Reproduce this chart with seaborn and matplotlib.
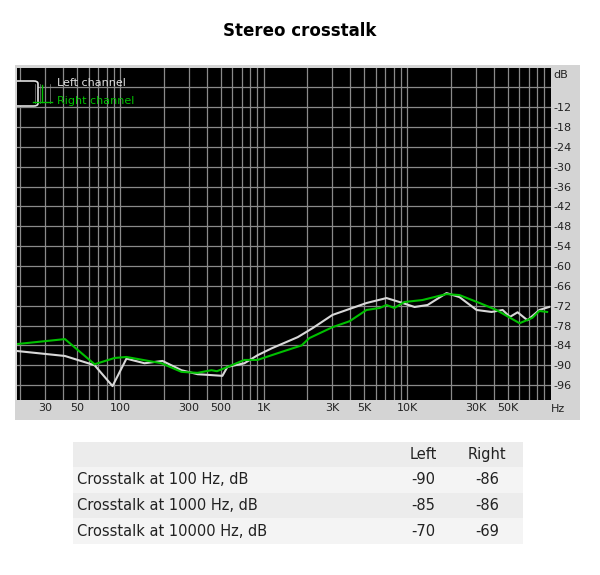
import matplotlib
matplotlib.use("Agg")
import matplotlib.pyplot as plt
import seaborn as sns
import pandas as pd
import numpy as np
from matplotlib.patches import Rectangle, FancyBboxPatch

left_freq = [19, 41, 66, 88, 110, 147, 196, 226, 266, 344, 513, 556, 730, 900, 1130, 1720, 2180,
             3000, 5180, 7140, 8800, 11200, 13800, 18700, 23000, 30300, 38500, 46000, 51700, 58500,
             68500, 83000, 97000]
left_db = [-85.7, -87.2, -90.0, -96.3, -88.0, -89.4, -88.7, -90.0, -91.5, -92.7, -93.2, -90.5, -89.4,
           -87.0, -84.9, -81.5, -78.8, -74.8, -71.2, -69.7, -70.9, -72.4, -71.8, -68.2, -69.4, -73.3,
           -73.9, -73.3, -75.4, -74.0, -76.4, -73.3, -72.4]
right_freq = [19, 41, 66, 91, 110, 193, 266, 344, 430, 470, 530, 730, 900, 1320, 1830, 2070, 3000,
              3950, 5180, 6400, 7140, 8100, 9500, 12700, 18700, 23000, 31800, 41600, 60400, 74000,
              83000, 94000]
right_db = [-83.6, -82.1, -89.7, -87.8, -87.5, -89.4, -92.0, -92.3, -91.5, -91.8, -90.9, -88.4, -88.4,
            -86.0, -84.0, -81.8, -78.5, -76.7, -73.3, -72.7, -71.8, -72.7, -70.9, -70.3, -68.5, -68.8,
            -71.2, -73.3, -77.3, -75.7, -73.6, -73.9]
series_names = ["Left channel", "Right channel"]
xtick_vals = [30, 50, 100, 300, 500, 1000, 3000, 5000, 10000, 30000, 50000]
xtick_labels = ["30", "50", "100", "300", "500", "1K", "3K", "5K", "10K", "30K", "50K"]
ytick_vals = list(range(-12, -97, -6))

table_cols = ["", "Left", "Right"]
table_rows = ["Crosstalk at 100 Hz, dB", "Crosstalk at 1000 Hz, dB", "Crosstalk at 10000 Hz, dB"]
table_left = [-90, -85, -70]
table_right = [-86, -86, -69]

df = pd.concat([
    pd.DataFrame({"f": left_freq, "dB": left_db, "ch": series_names[0]}),
    pd.DataFrame({"f": right_freq, "dB": right_db, "ch": series_names[1]}),
])

W, H = 600, 575
fig = plt.figure(figsize=(6, 5.75), dpi=100)
fig.patch.set_facecolor("white")

def fx(px): return px / W
def fy(py): return 1 - py / H

# gray panel
fig.patches.append(Rectangle((fx(15), fy(420)), fx(565), 355 / H, transform=fig.transFigure,
                             facecolor="#d4d4d4", edgecolor="none", zorder=-5))
fig.text(0.5, fy(31), "Stereo crosstalk", ha="center", va="center", fontsize=12, fontweight="bold",
         family="DejaVu Sans")

ax = fig.add_axes([fx(17), fy(400), fx(534), 332 / H])
ax.set_zorder(2)
ax.set_facecolor("black")
ax.set_xscale("log")
ax.set_xlim(19, 100000)
ax.set_ylim(-100.5, -0.2)
for dec in [10, 100, 1000, 10000]:
    for m in range(1, 10):
        v = dec * m
        if 19 < v < 100000:
            ax.axvline(v, color="#8a8a8a", lw=0.9, zorder=1)
for v in range(-6, -101, -6):
    ax.axhline(v, color="#8a8a8a", lw=0.9, zorder=1)

sns.lineplot(data=df, x="f", y="dB", hue="ch", palette=["#d8d8d8", "#00c000"], ax=ax,
             legend=False, lw=1.5, zorder=3, sort=False)
ax.set_xlabel("")
ax.set_ylabel("")
ax.set_xticks(xtick_vals)
ax.set_xticklabels(xtick_labels)
ax.xaxis.set_minor_locator(matplotlib.ticker.NullLocator())
ax.yaxis.tick_right()
ax.set_yticks(ytick_vals)
ax.set_yticklabels([str(v) for v in ytick_vals])
ax.tick_params(length=0, labelsize=8, colors="#222222", pad=2)
for s in ax.spines.values():
    s.set_visible(False)

# legend inside axes (axes coords via pixel conversion)
def ax_pt(px, py):
    return ((px - 17) / 534, (400 - py) / 332)

ax.text(*ax_pt(57, 83), series_names[0], color="#e0e0e0", fontsize=8, va="center", transform=ax.transAxes, zorder=6)
ax.text(*ax_pt(57, 101), series_names[1], color="#00c000", fontsize=8, va="center", transform=ax.transAxes, zorder=6)
x0, y0 = ax_pt(13, 106)
icon = FancyBboxPatch((x0, y0), 25 / 534, 25 / 332, boxstyle="round,pad=0,rounding_size=0.008",
                      transform=ax.transAxes, facecolor="black", edgecolor="#e0e0e0", lw=1.2, zorder=5)
ax.add_patch(icon)
for gx in [18, 23, 28, 33]:
    ax.plot([(gx) / 534] * 2, [ax_pt(0, 103)[1], ax_pt(0, 84)[1]], color="#888888", lw=0.5,
            transform=ax.transAxes, zorder=6)
ax.plot([16 / 534, 35 / 534], [ax_pt(0, 102)[1]] * 2, color="#00c000", lw=1, transform=ax.transAxes, zorder=7)
ax.plot([25 / 534] * 2, [ax_pt(0, 102)[1], ax_pt(0, 85)[1]], color="#00c000", lw=1, transform=ax.transAxes, zorder=7)

fig.text(fx(553), fy(75), "dB", fontsize=8, color="#222222", va="center", zorder=3)
fig.text(fx(551), fy(409), "Hz", fontsize=8, color="#222222", va="center", zorder=3)

# table
row_tops = [442, 467, 493, 518, 544]
bgs = ["#ececec", "#f4f4f4", "#ececec", "#f4f4f4"]
for i in range(4):
    fig.patches.append(Rectangle((fx(73), fy(row_tops[i + 1])), fx(450), (row_tops[i + 1] - row_tops[i]) / H,
                                 transform=fig.transFigure, facecolor=bgs[i], edgecolor="none", zorder=-5))
tcx = [fx(423), fx(487)]
ymid = lambda i: fy((row_tops[i] + row_tops[i + 1]) / 2)
fig.text(tcx[0], ymid(0), table_cols[1], ha="center", va="center", fontsize=10.5, color="#222222")
fig.text(tcx[1], ymid(0), table_cols[2], ha="center", va="center", fontsize=10.5, color="#222222")
for i, name in enumerate(table_rows):
    fig.text(fx(77), ymid(i + 1), name, ha="left", va="center", fontsize=10.5, color="#222222")
    fig.text(tcx[0], ymid(i + 1), str(table_left[i]), ha="center", va="center", fontsize=10.5, color="#222222")
    fig.text(tcx[1], ymid(i + 1), str(table_right[i]), ha="center", va="center", fontsize=10.5, color="#222222")

fig.savefig("out.png", dpi=100)
